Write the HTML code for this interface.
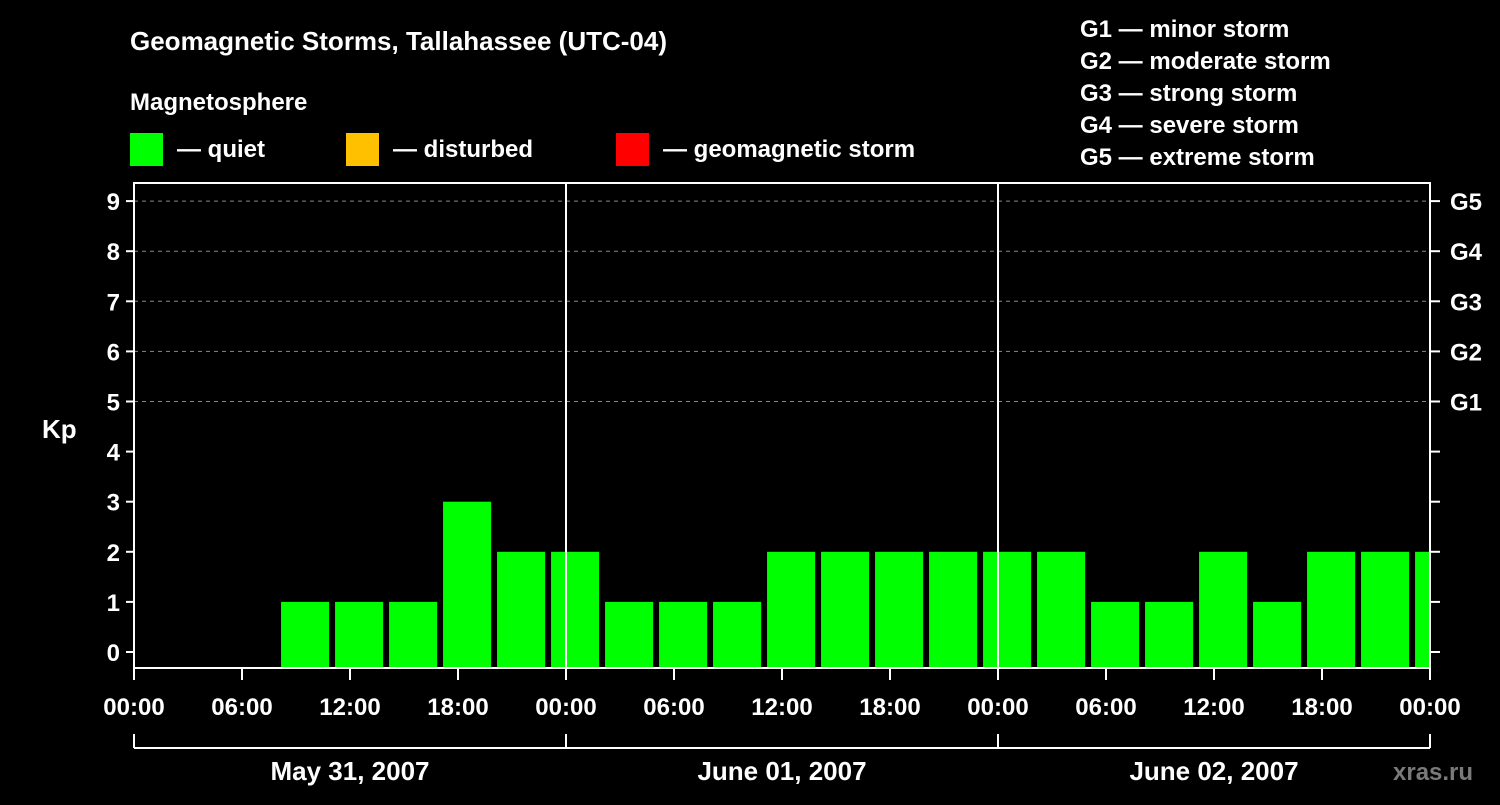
<!DOCTYPE html>
<html><head><meta charset="utf-8"><style>
body{margin:0;background:#000;width:1500px;height:800px;overflow:hidden}
svg text{font-family:"Liberation Sans",sans-serif;font-weight:bold;fill:#fff}
</style></head><body>
<svg id="chart" width="1500" height="800" xmlns="http://www.w3.org/2000/svg">
<rect width="1500" height="800" fill="#000"/>
<text x="130" y="50" font-size="26">Geomagnetic Storms, Tallahassee (UTC-04)</text>
<text x="130" y="110" font-size="24">Magnetosphere</text>
<rect x="130" y="133" width="33" height="33" fill="#00ff00"/>
<text x="177" y="157" font-size="24">— quiet</text>
<rect x="346" y="133" width="33" height="33" fill="#ffc000"/>
<text x="393" y="157" font-size="24">— disturbed</text>
<rect x="616" y="133" width="33" height="33" fill="#ff0000"/>
<text x="663" y="157" font-size="24">— geomagnetic storm</text>
<g font-size="24">
<text x="1080" y="37" font-size="24">G1 — minor storm</text>
<text x="1080" y="69" font-size="24">G2 — moderate storm</text>
<text x="1080" y="101" font-size="24">G3 — strong storm</text>
<text x="1080" y="133" font-size="24">G4 — severe storm</text>
<text x="1080" y="165" font-size="24">G5 — extreme storm</text>
</g>
<text x="42" y="438" font-size="26">Kp</text>
<text x="1393" y="780" font-size="24" fill="#888" style="fill:#7a7a7a">xras.ru</text>
<g id="plot"></g>
</svg>
<script>
const kpHours = [9.5,12.5,15.5,18.5,21.5,24.5,27.5,30.5,33.5,36.5,39.5,42.5,45.5,48.5,51.5,54.5,57.5,60.5,63.5,66.5,69.5,72.5];
const kpValues = [1,1,1,3,2,2,1,1,1,2,2,2,2,2,2,1,1,2,1,2,2,2];
const yTicks = [0,1,2,3,4,5,6,7,8,9];
const gLabels = ["G1","G2","G3","G4","G5"];
const xTickLabels = ["00:00","06:00","12:00","18:00","00:00","06:00","12:00","18:00","00:00","06:00","12:00","18:00","00:00"];
const dateLabels = ["May 31, 2007","June 01, 2007","June 02, 2007"];

const L=134,R=1430,T=183,B=668;
const x=h=>L+h*(R-L)/72;
const y=v=>652-v*50.1;
const NS="http://www.w3.org/2000/svg";
const g=document.getElementById('plot');
function mk(tag,attrs,parent){const e=document.createElementNS(NS,tag);for(const k in attrs)e.setAttribute(k,attrs[k]);(parent||g).appendChild(e);return e;}

yTicks.forEach(v=>{
  if(v>=5){const l=mk('line',{x1:L,x2:R,y1:y(v),y2:y(v),stroke:'#888','stroke-dasharray':'4,4','stroke-width':1});
  
  }
});
const clip=mk('clipPath',{id:'pc'});mk('rect',{x:L,y:T,width:R-L,height:B-T},clip);
kpValues.forEach((v,i)=>{
  const c=kpHours[i];
  const r=mk('rect',{x:x(c-1.33),y:y(v),width:x(2.67)-L,height:B-y(v),fill:v>=5?'#ff0000':(v>=4?'#ffc000':'#00ff00'),'clip-path':'url(#pc)'});
  
  
});
mk('rect',{x:L,y:T,width:R-L,height:B-T,fill:'none',stroke:'#fff','stroke-width':2});
[24,48].forEach(h=>{const l=mk('line',{x1:x(h),x2:x(h),y1:T,y2:B,stroke:'#fff','stroke-width':2});
  
  });
yTicks.forEach(v=>{
  mk('line',{x1:L-8,x2:L,y1:y(v),y2:y(v),stroke:'#fff','stroke-width':2});
  mk('line',{x1:R,x2:R+10,y1:y(v),y2:y(v),stroke:'#fff','stroke-width':2});
  const t=mk('text',{x:L-14,y:y(v)+9,'font-size':24,'text-anchor':'end'});t.textContent=v;
  
  
});
gLabels.forEach((s,i)=>{const t=mk('text',{x:R+20,y:y(5+i)+9,'font-size':24});t.textContent=s;
  
  });
xTickLabels.forEach((s,i)=>{
  mk('line',{x1:x(i*6),x2:x(i*6),y1:B,y2:B+12,stroke:'#fff','stroke-width':2});
  const t=mk('text',{x:x(i*6),y:B+47,'font-size':24,'text-anchor':'middle'});t.textContent=s;
  
  
});
mk('line',{x1:L,x2:R,y1:748,y2:748,stroke:'#fff','stroke-width':2});
[0,24,48,72].forEach(h=>mk('line',{x1:x(h),x2:x(h),y1:734,y2:748,stroke:'#fff','stroke-width':2}));
dateLabels.forEach((s,i)=>{const t=mk('text',{x:x(i*24+12),y:780,'font-size':26,'text-anchor':'middle'});t.textContent=s;
  
  });
</script>
</body></html>
